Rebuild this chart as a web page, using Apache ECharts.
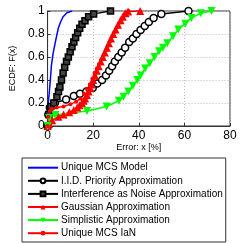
<!DOCTYPE html>
<html><head><meta charset="utf-8">
<script src="https://cdn.jsdelivr.net/npm/echarts@6/dist/echarts.min.js"></script>
<style>html,body{margin:0;padding:0;background:#fff}#c{width:249px;height:243px}</style>
</head><body><div id="c"></div>
<script>
const xTicks = [0, 20, 40, 60, 80];
const yTicks = [0, 0.2, 0.4, 0.6, 0.8, 1];
const seriesNames = ["Unique MCS Model", "I.I.D. Priority Approximation", "Interference as Noise Approximation", "Gaussian Approximation", "Simplistic Approximation", "Unique MCS IaN"];

const modelX = [0, 0.1, 0.3, 0.7, 1.2, 1.7, 2.4, 3.4, 4.7, 5.6, 6.8, 8.5, 10.8];
const modelY = [0, 0.1, 0.2, 0.28, 0.4, 0.53, 0.63, 0.73, 0.85, 0.9, 0.95, 0.985, 1];

const iidX = [0, 0.3, 1, 3.2, 8.1, 11.5, 14.2, 17, 19.8, 21.8, 23.9, 25.6, 27, 28.3, 29.5, 31, 32.5, 34, 35.8, 37.4, 39, 40.8, 42.6, 44.4, 46.5, 49.9, 61.8];
const iidY = [0, 0.1, 0.16, 0.2, 0.23, 0.26, 0.28, 0.3, 0.33, 0.37, 0.4, 0.44, 0.48, 0.52, 0.56, 0.6, 0.64, 0.68, 0.73, 0.76, 0.8, 0.835, 0.87, 0.905, 0.94, 0.974, 1];

const ianX = [0, 0.5, 1.4, 2.7, 4.1, 4.8, 5.4, 6.1, 6.8, 7.5, 8.3, 9.1, 9.9, 10.7, 11.5, 12.3, 13.2, 14.1, 15.1, 16.4, 18, 20.2, 27.6];
const ianY = [0, 0.1, 0.17, 0.2, 0.255, 0.3, 0.34, 0.4, 0.46, 0.51, 0.56, 0.6, 0.645, 0.69, 0.73, 0.77, 0.81, 0.85, 0.885, 0.915, 0.95, 0.975, 1];

const gaussX = [0, 0.7, 2, 4.7, 7, 9.5, 11.5, 13, 14, 15, 15.8, 16.5, 17.3, 18, 18.7, 19.3, 20, 20.8, 21.6, 22.4, 23.3, 24.2, 25.1, 26, 26.9, 27.8, 28.8, 29.8, 30.9, 32, 33, 34.2, 35.3, 40.6];
const gaussY = [0, 0.02, 0.05, 0.08, 0.1, 0.12, 0.14, 0.16, 0.18, 0.2, 0.22, 0.24, 0.27, 0.3, 0.33, 0.36, 0.4, 0.44, 0.48, 0.52, 0.56, 0.6, 0.64, 0.68, 0.72, 0.76, 0.8, 0.84, 0.88, 0.92, 0.95, 0.98, 0.995, 1];

const simpX = [0, 0.7, 3.4, 17.3, 25.9, 31.3, 33.3, 35.4, 37.4, 39.4, 40.8, 42.8, 44.8, 46.9, 48.9, 50.6, 52.5, 55, 57.3, 60.4, 63.1, 67.2, 71.9];
const simpY = [0, 0.07, 0.096, 0.13, 0.17, 0.22, 0.255, 0.3, 0.35, 0.4, 0.44, 0.5, 0.545, 0.6, 0.65, 0.68, 0.72, 0.78, 0.84, 0.89, 0.94, 0.98, 1];

const uianX = [0, 0.3, 1, 2, 4, 7, 10, 12.5, 14.5, 16, 17.3, 18.5, 19.6, 20.6, 21.6, 22.6, 23.6, 24.6, 25.6, 26.6, 27.6, 28.6, 29.6, 30.6, 31.7, 32.8, 34, 35.5];
const uianY = [0, 0.08, 0.13, 0.15, 0.16, 0.17, 0.19, 0.21, 0.24, 0.28, 0.32, 0.36, 0.41, 0.46, 0.5, 0.54, 0.58, 0.62, 0.66, 0.7, 0.74, 0.78, 0.82, 0.86, 0.9, 0.94, 0.98, 1];

const pairs = (xs, ys) => xs.map((x, i) => [x, ys[i]]);

const chart = echarts.init(document.getElementById('c'), null, {renderer: 'canvas'});
const font = 'Liberation Sans, Arial, Helvetica, sans-serif';
chart.setOption({
  animation: false,
  grid: {left: 33, right: 19, top: 11, bottom: 117, show: true, borderColor: '#333', borderWidth: 1, containLabel: false},
  xAxis: {
    type: 'value', min: xTicks[0], max: xTicks[xTicks.length - 1], interval: 20,
    name: 'Error: x [%]', nameLocation: 'middle', nameGap: 17,
    nameTextStyle: {fontFamily: font, fontSize: 9, color: '#000'},
    axisLine: {show: true, lineStyle: {color: '#333'}},
    axisTick: {show: true, inside: true, length: 3, lineStyle: {color: '#333'}},
    axisLabel: {fontFamily: font, fontSize: 12, color: '#000', margin: 4},
    splitLine: {show: true, lineStyle: {color: '#bbb', type: [1, 2], width: 1}}
  },
  yAxis: {
    type: 'value', min: yTicks[0], max: yTicks[yTicks.length - 1], interval: 0.2,
    name: 'ECDF: F(x)', nameLocation: 'middle', nameGap: 21,
    nameTextStyle: {fontFamily: font, fontSize: 9, color: '#000'},
    axisLine: {show: true, lineStyle: {color: '#333'}},
    axisTick: {show: true, inside: true, length: 3, lineStyle: {color: '#333'}},
    axisLabel: {fontFamily: font, fontSize: 12, color: '#000', margin: 3},
    splitLine: {show: true, lineStyle: {color: '#bbb', type: [1, 2], width: 1}}
  },
  legend: {
    orient: 'vertical', left: 22, top: 158, height: 90,
    padding: [4.7, 3, 3.8, 5], itemWidth: 30, itemHeight: 6, itemGap: 3.1,
    borderColor: '#333', borderWidth: 1, backgroundColor: '#fff',
    textStyle: {fontFamily: font, fontSize: 10, lineHeight: 10, color: '#000', padding: [0, 0, 0, -2]},
    data: [
      {name: seriesNames[0], icon: 'path://M0,0 H30 V2 H0 Z'},
      seriesNames[1], seriesNames[2], seriesNames[3], seriesNames[4], seriesNames[5]
    ]
  },
  series: [
    {name: seriesNames[0], type: 'line', data: pairs(modelX, modelY), showSymbol: false, symbol: 'none', smooth: false,
     lineStyle: {color: '#0000ff', width: 1.5}, itemStyle: {color: '#0000ff'}},
    {name: seriesNames[1], type: 'line', data: pairs(iidX, iidY), symbol: 'circle', symbolSize: 7,
     lineStyle: {color: '#000', width: 1.5}, itemStyle: {color: '#fff', borderColor: '#000', borderWidth: 1.5}},
    {name: seriesNames[2], type: 'line', data: pairs(ianX, ianY), symbol: 'rect', symbolSize: 6,
     lineStyle: {color: '#000', width: 1.5}, itemStyle: {color: '#444', borderColor: '#000', borderWidth: 1.5}},
    {name: seriesNames[3], type: 'line', data: pairs(gaussX, gaussY), symbol: 'triangle', symbolSize: 8,
     lineStyle: {color: '#ff0000', width: 1.5}, itemStyle: {color: '#ff0000', borderColor: '#ff0000', borderWidth: 0}},
    {name: seriesNames[4], type: 'line', data: pairs(simpX, simpY), symbol: 'triangle', symbolRotate: 180, symbolSize: 8,
     lineStyle: {color: '#00ff00', width: 1.5}, itemStyle: {color: '#00ff00', borderColor: '#00ff00', borderWidth: 0}},
    {name: seriesNames[5], type: 'line', data: pairs(uianX, uianY), symbol: 'circle', symbolSize: 4,
     lineStyle: {color: '#ff0000', width: 1.5}, itemStyle: {color: '#ff0000', borderColor: '#ff0000', borderWidth: 0}}
  ]
});
</script></body></html>
